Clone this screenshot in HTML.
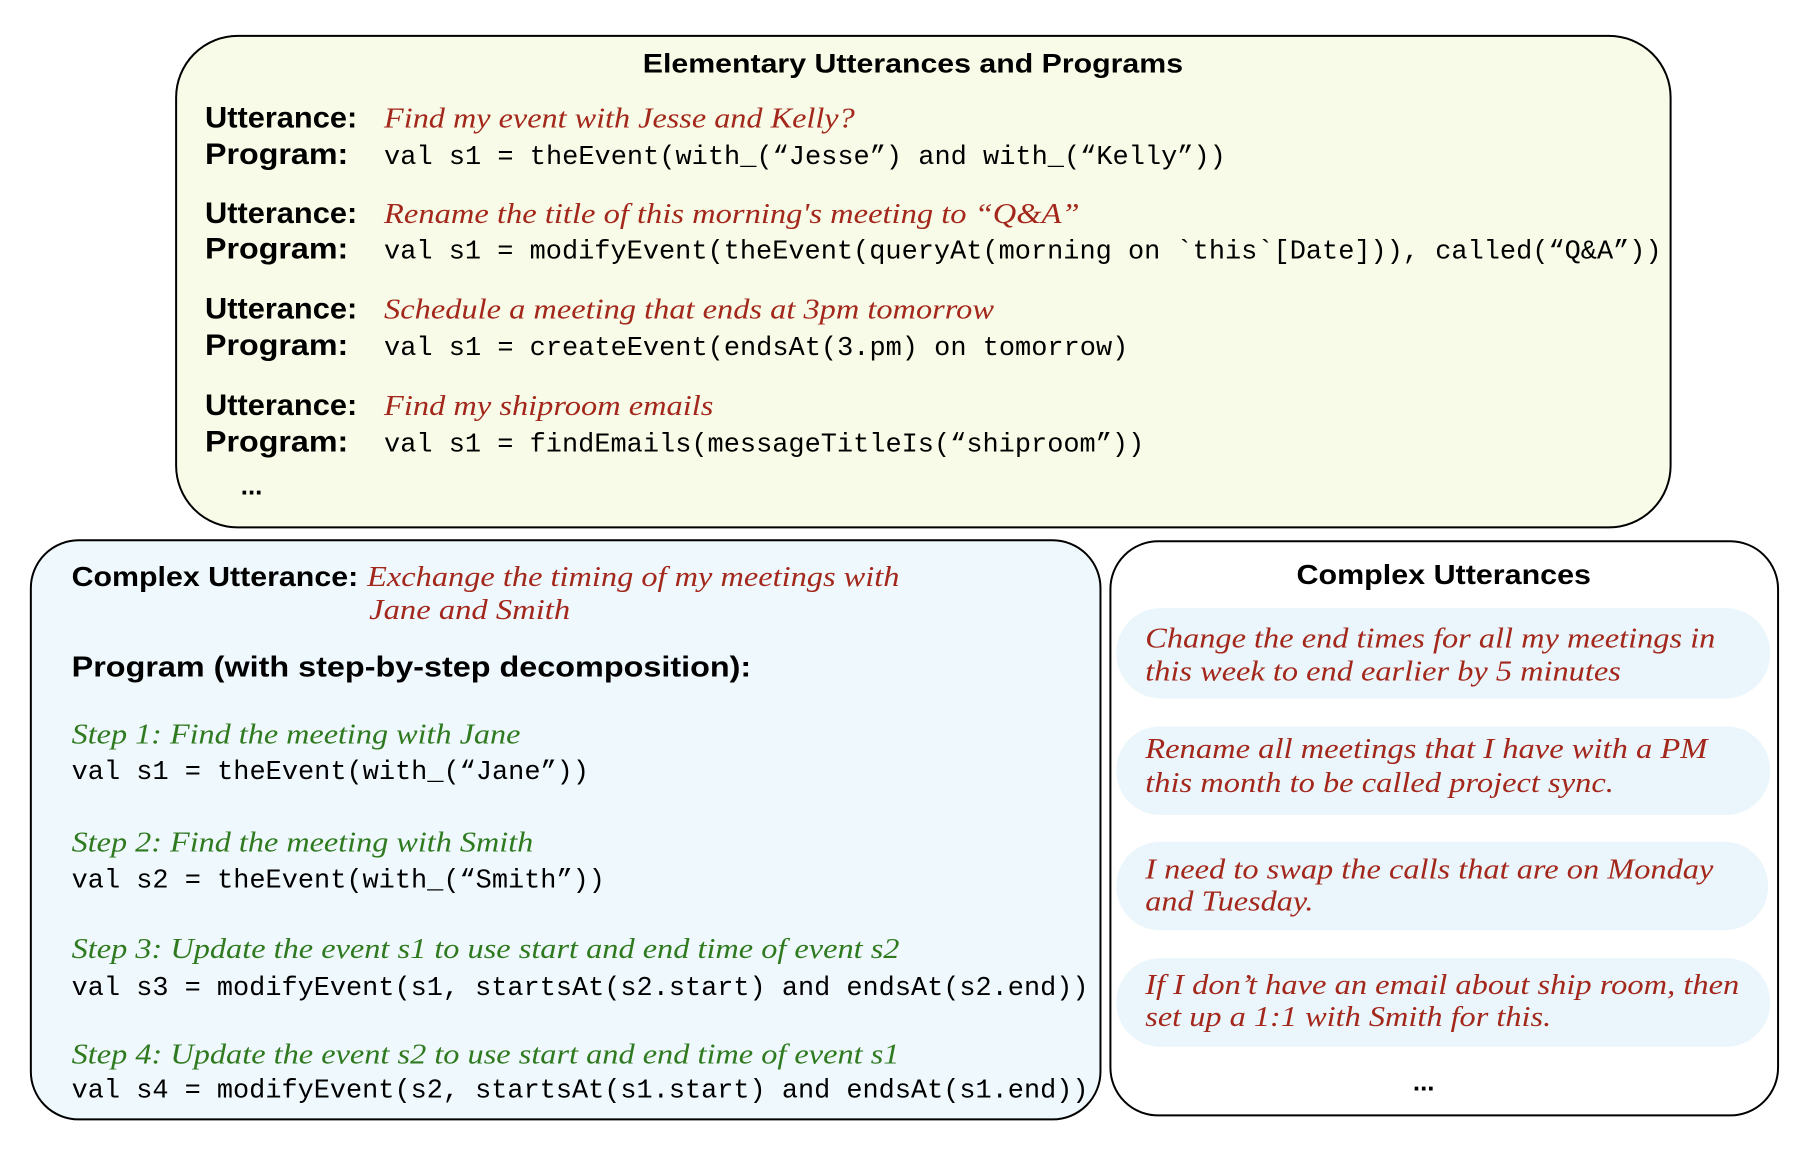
<!DOCTYPE html>
<html><head><meta charset="utf-8"><style>
html,body{margin:0;padding:0;background:#fff}
svg{display:block}
.b{font-family:"Liberation Sans",sans-serif;font-weight:bold;fill:#000}
.m{font-family:"Liberation Mono",monospace;fill:#000}
.r{font-family:"Liberation Serif",serif;font-style:italic;fill:#a3271b}
.g{font-family:"Liberation Serif",serif;font-style:italic;fill:#2f7a1f}
</style></head><body>
<svg width="1810" height="1152" viewBox="0 0 1810 1152" xmlns="http://www.w3.org/2000/svg">
<g transform="scale(0.995)">
<rect x="177" y="36" width="1502" height="494" rx="62" fill="#f8fbe7" stroke="#000" stroke-width="2"/>
<rect x="31" y="543" width="1075" height="582" rx="48" fill="#eef8fd" stroke="#000" stroke-width="2"/>
<rect x="1116" y="544" width="671" height="577" rx="48" fill="#fff" stroke="#000" stroke-width="2"/>
<rect x="1122" y="611" width="657" height="91" rx="45" fill="#eaf6fb"/>
<rect x="1122" y="730" width="657" height="89" rx="44" fill="#eaf6fb"/>
<rect x="1122" y="846" width="655" height="89" rx="44" fill="#eaf6fb"/>
<rect x="1122" y="963" width="657" height="89" rx="44" fill="#eaf6fb"/>

<text class="b" x="646" y="73" font-size="27" textLength="543" lengthAdjust="spacingAndGlyphs">Elementary Utterances and Programs</text>

<text class="b" x="206" y="128" font-size="30" textLength="153" lengthAdjust="spacingAndGlyphs">Utterance:</text>
<text class="r" x="386" y="128" font-size="29" textLength="473" lengthAdjust="spacingAndGlyphs">Find my event with Jesse and Kelly?</text>
<text class="b" x="206" y="165" font-size="30" textLength="144" lengthAdjust="spacingAndGlyphs">Program:</text>
<text class="m" x="386" y="165" font-size="27" textLength="846" lengthAdjust="spacingAndGlyphs">val s1 = theEvent(with_(“Jesse”) and with_(“Kelly”))</text>

<text class="b" x="206" y="224" font-size="30" textLength="153" lengthAdjust="spacingAndGlyphs">Utterance:</text>
<text class="r" x="386" y="224" font-size="29" textLength="699" lengthAdjust="spacingAndGlyphs">Rename the title of this morning's meeting to “Q&amp;A”</text>
<text class="b" x="206" y="260" font-size="30" textLength="144" lengthAdjust="spacingAndGlyphs">Program:</text>
<text class="m" x="386" y="260" font-size="27" textLength="1284" lengthAdjust="spacingAndGlyphs">val s1 = modifyEvent(theEvent(queryAt(morning on `this`[Date])), called(“Q&amp;A”))</text>

<text class="b" x="206" y="320" font-size="30" textLength="153" lengthAdjust="spacingAndGlyphs">Utterance:</text>
<text class="r" x="386" y="320" font-size="29" textLength="613" lengthAdjust="spacingAndGlyphs">Schedule a meeting that ends at 3pm tomorrow</text>
<text class="b" x="206" y="357" font-size="30" textLength="144" lengthAdjust="spacingAndGlyphs">Program:</text>
<text class="m" x="386" y="357" font-size="27" textLength="748" lengthAdjust="spacingAndGlyphs">val s1 = createEvent(endsAt(3.pm) on tomorrow)</text>

<text class="b" x="206" y="417" font-size="30" textLength="153" lengthAdjust="spacingAndGlyphs">Utterance:</text>
<text class="r" x="386" y="417" font-size="29" textLength="331" lengthAdjust="spacingAndGlyphs">Find my shiproom emails</text>
<text class="b" x="206" y="454" font-size="30" textLength="144" lengthAdjust="spacingAndGlyphs">Program:</text>
<text class="m" x="386" y="454" font-size="27" textLength="764" lengthAdjust="spacingAndGlyphs">val s1 = findEmails(messageTitleIs(“shiproom”))</text>
<text class="b" x="242" y="497" font-size="26" font-weight="normal">...</text>

<text class="b" x="72" y="589" font-size="28" textLength="288" lengthAdjust="spacingAndGlyphs">Complex Utterance:</text>
<text class="r" x="369" y="589" font-size="29" textLength="535" lengthAdjust="spacingAndGlyphs">Exchange the timing of my meetings with</text>
<text class="r" x="371" y="622" font-size="29" textLength="202" lengthAdjust="spacingAndGlyphs">Jane and Smith</text>
<text class="b" x="72" y="680" font-size="29" textLength="683" lengthAdjust="spacingAndGlyphs">Program (with step-by-step decomposition):</text>

<text class="g" x="72" y="747" font-size="29" textLength="451" lengthAdjust="spacingAndGlyphs">Step 1: Find the meeting with Jane</text>
<text class="m" x="72" y="783" font-size="26.6" textLength="520" lengthAdjust="spacingAndGlyphs">val s1 = theEvent(with_(“Jane”))</text>
<text class="g" x="72" y="856" font-size="29" textLength="464" lengthAdjust="spacingAndGlyphs">Step 2: Find the meeting with Smith</text>
<text class="m" x="72" y="892" font-size="26.6" textLength="536" lengthAdjust="spacingAndGlyphs">val s2 = theEvent(with_(“Smith”))</text>
<text class="g" x="72" y="963" font-size="29" textLength="832" lengthAdjust="spacingAndGlyphs">Step 3: Update the event s1 to use start and end time of event s2</text>
<text class="m" x="72" y="1000" font-size="26.6" textLength="1022" lengthAdjust="spacingAndGlyphs">val s3 = modifyEvent(s1, startsAt(s2.start) and endsAt(s2.end))</text>
<text class="g" x="72" y="1069" font-size="29" textLength="832" lengthAdjust="spacingAndGlyphs">Step 4: Update the event s2 to use start and end time of event s1</text>
<text class="m" x="72" y="1103" font-size="26.6" textLength="1022" lengthAdjust="spacingAndGlyphs">val s4 = modifyEvent(s2, startsAt(s1.start) and endsAt(s1.end))</text>

<text class="b" x="1303" y="587" font-size="28" textLength="296" lengthAdjust="spacingAndGlyphs">Complex Utterances</text>
<text class="r" x="1151" y="651" font-size="29" textLength="573" lengthAdjust="spacingAndGlyphs">Change the end times for all my meetings in</text>
<text class="r" x="1151" y="684" font-size="29" textLength="478" lengthAdjust="spacingAndGlyphs">this week to end earlier by 5 minutes</text>
<text class="r" x="1151" y="762" font-size="29" textLength="565" lengthAdjust="spacingAndGlyphs">Rename all meetings that I have with a PM</text>
<text class="r" x="1151" y="796" font-size="29" textLength="471" lengthAdjust="spacingAndGlyphs">this month to be called project sync.</text>
<text class="r" x="1151" y="883" font-size="29" textLength="571" lengthAdjust="spacingAndGlyphs">I need to swap the calls that are on Monday</text>
<text class="r" x="1151" y="915" font-size="29" textLength="169" lengthAdjust="spacingAndGlyphs">and Tuesday.</text>
<text class="r" x="1151" y="999" font-size="29" textLength="597" lengthAdjust="spacingAndGlyphs">If I don’t have an email about ship room, then</text>
<text class="r" x="1151" y="1031" font-size="29" textLength="408" lengthAdjust="spacingAndGlyphs">set up a 1:1 with Smith for this.</text>
<text class="b" x="1420" y="1096" font-size="26" font-weight="normal">...</text>
</g>
</svg>
</body></html>
